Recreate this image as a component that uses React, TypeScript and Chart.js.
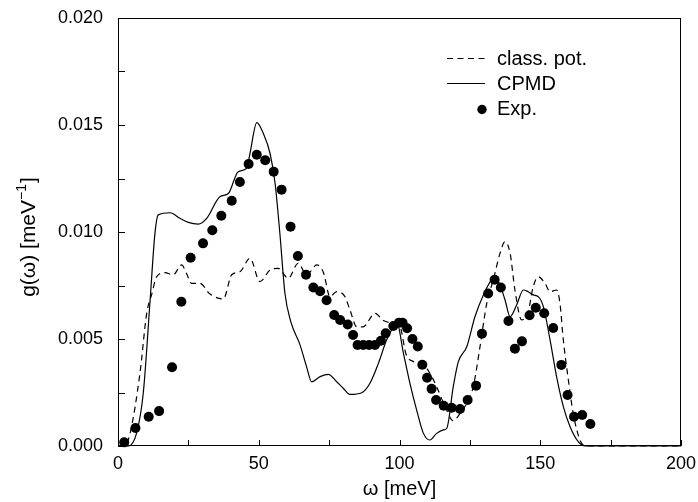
import React, { useEffect, useRef } from "react";
import { Chart, registerables } from "chart.js";

Chart.register(...registerables);

const xTicks = [0, 50, 100, 150, 200];
const yTicks = [0, 0.005, 0.01, 0.015, 0.02];

const expX = [2.2, 6.2, 10.9, 14.6, 19.2, 22.5, 25.8, 30.2, 33.5, 36.7, 40.4, 43.3, 46.4, 49.3, 52.3, 55.3, 58.1, 61.3, 63.9, 66.8, 69.4, 71.8, 74.1, 76.8, 78.9, 81.6, 83.5, 85.1, 87.1, 89.2, 91.3, 93.4, 95.1, 97.8, 99.8, 101.1, 102.7, 104.6, 106.5, 108.1, 109.8, 111.4, 113.0, 115.7, 118.5, 121.5, 124.2, 127.2, 129.3, 131.5, 133.8, 136.0, 138.7, 141.0, 143.5, 146.2, 148.4, 151.4, 154.6, 157.5, 159.7, 162.0, 164.9, 167.8];
const expY = [0.00017, 0.00084, 0.00137, 0.00163, 0.00368, 0.00674, 0.0088, 0.00947, 0.01008, 0.01076, 0.01146, 0.01234, 0.01318, 0.01361, 0.01335, 0.01282, 0.01198, 0.01025, 0.00888, 0.008, 0.00741, 0.00723, 0.00681, 0.00612, 0.00589, 0.00568, 0.00519, 0.00472, 0.00472, 0.00472, 0.00472, 0.00492, 0.00527, 0.00561, 0.00576, 0.00576, 0.0055, 0.005, 0.00465, 0.0038, 0.00319, 0.00267, 0.00215, 0.00188, 0.00179, 0.00173, 0.00215, 0.00282, 0.00525, 0.00713, 0.00777, 0.00741, 0.00584, 0.00455, 0.00489, 0.00611, 0.00646, 0.0062, 0.00551, 0.00379, 0.00238, 0.00137, 0.00145, 0.00103];

const cpmdX = [0, 3.7, 6.6, 9.0, 11.4, 13.1, 14.3, 18.5, 22.0, 25.0, 28.5, 31.5, 36.2, 39.2, 42.7, 45.7, 46.9, 49.3, 51.6, 54.0, 55.8, 57.5, 59.3, 61.4, 64.6, 67.0, 68.8, 71.8, 74.7, 77.7, 80.0, 82.4, 86.6, 89.5, 92.5, 95.4, 97.8, 99.0, 101.4, 103.7, 106.1, 108.5, 110.8, 113.2, 115.6, 116.8, 119.1, 120.9, 123.9, 126.8, 129.8, 132.7, 133.9, 135.7, 137.5, 139.3, 141.6, 144.0, 145.7, 147.5, 149.3, 151.1, 153.5, 155.8, 158.2, 160.6, 163.5, 165.9, 170, 200];
const cpmdY = [0, 0, 0.0006, 0.0025, 0.0068, 0.0099, 0.0108, 0.0109, 0.01064, 0.01045, 0.01037, 0.01064, 0.01165, 0.0118, 0.01282, 0.01298, 0.01368, 0.01511, 0.01461, 0.01368, 0.01228, 0.00994, 0.00714, 0.0058, 0.00475, 0.0037, 0.003, 0.00324, 0.00335, 0.003, 0.0027, 0.00241, 0.00249, 0.00293, 0.00386, 0.00495, 0.00557, 0.00581, 0.00433, 0.00293, 0.00168, 0.00059, 0.00028, 0.00059, 0.00075, 0.00083, 0.00277, 0.00394, 0.00464, 0.00604, 0.00706, 0.00776, 0.00788, 0.00752, 0.00682, 0.00604, 0.00659, 0.00729, 0.00721, 0.00706, 0.00698, 0.00651, 0.00495, 0.00324, 0.00184, 0.0009, 0.0002, 0, 0, 0];

const classX = [0, 2.3, 4.3, 7.8, 10.2, 12.0, 13.7, 16.7, 19.6, 22.6, 24.2, 26.2, 29.1, 32.7, 37.4, 40.4, 43.3, 46.9, 50.4, 54.0, 56.9, 60.5, 64.0, 67.0, 70.6, 73.0, 75.3, 77.7, 80.6, 82.4, 84.8, 87.1, 91.3, 94.3, 97.8, 100.2, 102.3, 104.9, 108.5, 110.8, 113.2, 116.2, 119.1, 121.5, 123.9, 126.2, 128.6, 131.0, 133.3, 135.7, 137.5, 139.3, 141.0, 143.4, 145.7, 147.5, 149.3, 151.7, 153.5, 155.8, 157.0, 158.2, 160.0, 161.7, 164.1, 165.9, 170, 200];
const classY = [0, 0, 0.0006, 0.0034, 0.0062, 0.0071, 0.0079, 0.0081, 0.008, 0.00846, 0.0081, 0.0076, 0.0076, 0.0071, 0.00687, 0.008, 0.00814, 0.00877, 0.00768, 0.00822, 0.0083, 0.00784, 0.00854, 0.008, 0.00846, 0.0081, 0.00698, 0.00721, 0.00698, 0.00636, 0.00557, 0.00557, 0.0062, 0.00586, 0.00573, 0.00557, 0.0043, 0.00395, 0.00379, 0.0034, 0.00277, 0.00184, 0.00118, 0.00152, 0.002, 0.00277, 0.00464, 0.00667, 0.00776, 0.009, 0.00955, 0.009, 0.00729, 0.00589, 0.00628, 0.00744, 0.00791, 0.0076, 0.00721, 0.00729, 0.00667, 0.00495, 0.00308, 0.00153, 0.00028, 0, 0, 0];

const legendLabels = ["class. pot.", "CPMD", "Exp."];
const xTitle = "ω [meV]";
const yTitleMain = "g(ω) [meV";
const yTitleSup = "−1";
const yTitleEnd = "]";

const FONT = "'Liberation Sans', Arial, Helvetica, sans-serif";

const decorPlugin = {
  id: "decor",
  afterDraw(chart: any) {
    const { ctx, chartArea, scales } = chart;
    const { left, right, top, bottom } = chartArea;
    const xs = scales.x;
    const ys = scales.y;
    ctx.save();
    ctx.strokeStyle = "#000";
    ctx.lineWidth = 1;
    ctx.setLineDash([]);
    ctx.strokeRect(left + 0.5, top + 0.5, right - left - 1, bottom - top - 1);
    // inward ticks
    for (let v = 0; v <= 200; v += 25) {
      const px = Math.round(xs.getPixelForValue(v)) + 0.5;
      ctx.beginPath();
      ctx.moveTo(px, bottom);
      ctx.lineTo(px, bottom - 6);
      ctx.stroke();
    }
    for (let i = 0; i <= 8; i++) {
      const py = Math.round(ys.getPixelForValue(i * 0.0025)) + 0.5;
      ctx.beginPath();
      ctx.moveTo(left, py);
      ctx.lineTo(left + 7, py);
      ctx.stroke();
    }
    // axis titles
    ctx.fillStyle = "#000";
    ctx.font = `20px ${FONT}`;
    ctx.textAlign = "center";
    ctx.textBaseline = "middle";
    ctx.fillText(xTitle, (left + right) / 2, 489);
    // y title with superscript
    ctx.save();
    ctx.translate(28, 237);
    ctx.rotate(-Math.PI / 2);
    ctx.textAlign = "left";
    ctx.textBaseline = "alphabetic";
    ctx.font = `21px ${FONT}`;
    const w1 = ctx.measureText(yTitleMain).width;
    ctx.font = `14px ${FONT}`;
    const w2 = ctx.measureText(yTitleSup).width;
    ctx.font = `21px ${FONT}`;
    const w3 = ctx.measureText(yTitleEnd).width;
    const total = w1 + w2 + w3 + 1;
    const x0 = -total / 2;
    const base = 7;
    ctx.fillText(yTitleMain, x0, base);
    ctx.font = `14px ${FONT}`;
    ctx.fillText(yTitleSup, x0 + w1, base - 9);
    ctx.font = `21px ${FONT}`;
    ctx.fillText(yTitleEnd, x0 + w1 + w2 + 1, base);
    ctx.restore();
    // legend
    ctx.font = `20px ${FONT}`;
    ctx.textAlign = "left";
    ctx.textBaseline = "middle";
    const lx0 = right - 234;
    const lx1 = right - 196;
    const tx = right - 184;
    const rows = [59, 84, 109.5];
    ctx.lineWidth = 1.2;
    ctx.setLineDash([6, 4.5]);
    ctx.beginPath();
    ctx.moveTo(lx0, rows[0] - 0.5);
    ctx.lineTo(lx1, rows[0] - 0.5);
    ctx.stroke();
    ctx.setLineDash([]);
    ctx.beginPath();
    ctx.moveTo(lx0, rows[1] - 0.5);
    ctx.lineTo(lx1, rows[1] - 0.5);
    ctx.stroke();
    ctx.beginPath();
    ctx.arc(right - 199, rows[2], 4.7, 0, Math.PI * 2);
    ctx.fill();
    legendLabels.forEach((t, i) => ctx.fillText(t, tx, rows[i]));
    ctx.restore();
  },
};

export default function App() {
  const ref = useRef<HTMLCanvasElement>(null);
  useEffect(() => {
    if (!ref.current) return;
    const toPts = (xs: number[], ys: number[]) => xs.map((x, i) => ({ x, y: ys[i] }));
    const chart = new Chart(ref.current, {
      type: "scatter",
      data: {
        datasets: [
          {
            label: legendLabels[0],
            data: toPts(classX, classY),
            showLine: true,
            borderColor: "#000",
            borderWidth: 1.2,
            borderDash: [6, 4.5],
            pointRadius: 0,
            cubicInterpolationMode: "monotone",
            fill: false,
          },
          {
            label: legendLabels[1],
            data: toPts(cpmdX, cpmdY),
            showLine: true,
            borderColor: "#000",
            borderWidth: 1.2,
            pointRadius: 0,
            cubicInterpolationMode: "monotone",
            fill: false,
          },
          {
            label: legendLabels[2],
            data: toPts(expX, expY),
            showLine: false,
            backgroundColor: "#000",
            borderColor: "#000",
            pointRadius: 5,
            pointBorderWidth: 0,
          },
        ],
      } as any,
      options: {
        animation: false,
        responsive: false,
        clip: false as any,
        layout: { padding: { left: 0, top: 18, right: 17, bottom: 0 } },
        plugins: { legend: { display: false }, tooltip: { enabled: false } },
        scales: {
          x: {
            type: "linear",
            min: 0,
            max: 200,
            afterBuildTicks: (s: any) => {
              s.ticks = xTicks.map((v) => ({ value: v }));
            },
            afterFit: (s: any) => {
              s.height = 56;
              s.paddingLeft = 0;
              s.paddingRight = 0;
            },
            grid: { display: false, drawTicks: false },
            border: { display: false },
            ticks: {
              color: "#000",
              font: { family: FONT, size: 18 },
              padding: 7,
              maxRotation: 0,
              autoSkip: false,
              callback: (v: any) => String(v),
            },
          },
          y: {
            type: "linear",
            min: 0,
            max: 0.02,
            afterBuildTicks: (s: any) => {
              s.ticks = yTicks.map((v) => ({ value: v }));
            },
            afterFit: (s: any) => {
              s.width = 118;
              s.paddingTop = 0;
              s.paddingBottom = 0;
            },
            grid: { display: false, drawTicks: false },
            border: { display: false },
            ticks: {
              color: "#000",
              font: { family: FONT, size: 18 },
              padding: 15,
              autoSkip: false,
              callback: (v: any) => Number(v).toFixed(3),
            },
          },
        },
      } as any,
      plugins: [decorPlugin],
    });
    return () => chart.destroy();
  }, []);
  return (
    <div style={{ position: "absolute", left: 0, top: 0, width: 698, height: 502, background: "#fff" }}>
      <canvas ref={ref} width={698} height={502} style={{ width: 698, height: 502 }} />
    </div>
  );
}
